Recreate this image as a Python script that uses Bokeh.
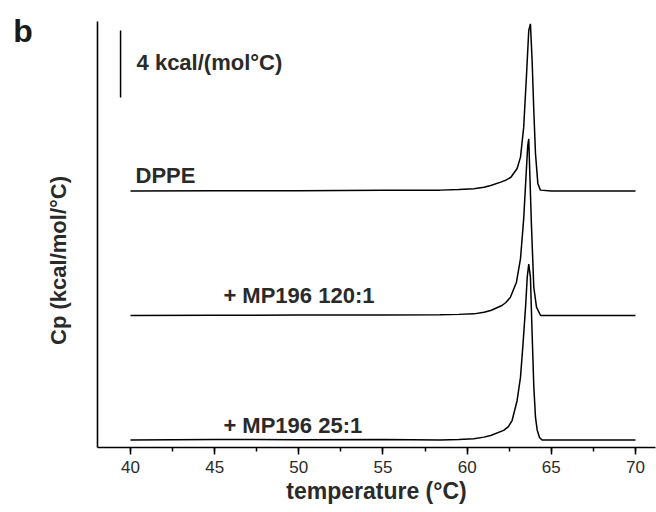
import math
from bokeh.plotting import figure
from bokeh.models import Range1d, SingleIntervalTicker, Label, FixedTicker
from bokeh.embed import file_html
from bokeh.resources import INLINE

# ---- data ----
series_names = ["DPPE", "+ MP196 120:1", "+ MP196 25:1"]
series_offsets = [14.87, 7.43, 0.0]  # vertical stacking offsets, kcal/(mol°C)

temp_dppe = [40.0, 45.0, 50.0, 55.0, 58.4, 59.5, 60.4, 61.0, 61.4, 62.0, 62.3, 62.6, 62.97,
             63.17, 63.36, 63.52, 63.66, 63.76, 63.86, 63.96, 64.06, 64.2, 64.35, 65.0, 70.0]
cp_dppe = [0.0, 0.02, 0.02, 0.04, 0.05, 0.08, 0.13, 0.22, 0.33, 0.53, 0.65, 0.82, 1.34,
           2.02, 3.81, 6.79, 9.58, 9.98, 7.79, 4.81, 2.24, 0.45, 0.05, 0.0, 0.0]

temp_120 = [40.0, 45.0, 50.0, 55.0, 58.4, 59.5, 60.4, 61.0, 61.4, 62.07, 62.3, 62.57, 62.93,
            63.17, 63.36, 63.5, 63.6, 63.66, 63.72, 63.81, 63.96, 64.12, 64.36, 65.0, 70.0]
cp_120 = [0.0, 0.02, 0.03, 0.03, 0.05, 0.07, 0.10, 0.2, 0.30, 0.60, 0.78, 1.09, 1.99,
          3.40, 5.79, 8.36, 10.15, 10.55, 8.6, 5.67, 1.69, 0.50, 0.0, 0.0, 0.0]

temp_25 = [40.0, 45.0, 50.0, 55.0, 58.4, 59.5, 60.4, 61.0, 61.4, 62.17, 62.45, 62.67, 62.97,
           63.17, 63.32, 63.47, 63.57, 63.66, 63.76, 63.86, 63.96, 64.06, 64.16, 64.3, 64.45, 65.0, 70.0]
cp_25 = [0.0, 0.03, 0.02, 0.03, 0.0, 0.03, 0.07, 0.17, 0.27, 0.57, 0.8, 1.16, 2.36,
         3.75, 5.74, 7.93, 9.72, 10.5, 9.72, 6.36, 3.2, 1.36, 0.6, 0.15, 0.0, 0.0, 0.0]

x_ticks = [40, 45, 50, 55, 60, 65, 70]
scale_bar_value = 4.0  # kcal/(mol°C)
scale_bar_x = 39.41
scale_bar_bottom = 20.45

FONT = "Liberation Sans"
TXT = "#2a2a2a"

p = figure(width=656, height=512, output_backend="svg", toolbar_location=None,
           x_range=Range1d(38.04, 71.19), y_range=Range1d(-0.45, 24.99),
           min_border_left=97, min_border_right=1, min_border_top=21, min_border_bottom=65)
p.outline_line_color = None
p.xgrid.visible = False
p.ygrid.visible = False
p.background_fill_color = "white"
p.border_fill_color = "white"

# x axis
xa = p.xaxis[0]
xa.ticker = SingleIntervalTicker(interval=5, num_minor_ticks=2)
xa.axis_line_width = 1.6
xa.axis_line_color = "black"
xa.major_tick_line_width = 1.5
xa.major_tick_line_color = "black"
xa.major_tick_out = 7
xa.major_tick_in = 0
xa.minor_tick_line_width = 1.5
xa.minor_tick_line_color = "black"
xa.minor_tick_out = 4
xa.minor_tick_in = 0
xa.major_label_text_font = FONT
xa.major_label_text_font_size = "17px"
xa.major_label_text_color = TXT
xa.major_label_standoff = 6
xa.axis_label = "temperature (°C)"
xa.axis_label_text_font = FONT
xa.axis_label_text_font_size = "23px"
xa.axis_label_text_font_style = "bold"
xa.axis_label_text_color = TXT
xa.axis_label_standoff = 2

# y axis: line only
ya = p.yaxis[0]
ya.ticker = FixedTicker(ticks=[])
ya.axis_line_width = 1.6
ya.axis_line_color = "black"
ya.major_tick_line_color = None
ya.minor_tick_line_color = None
ya.major_label_text_font_size = "0px"

# traces
temps = [temp_dppe, temp_120, temp_25]
cps = [cp_dppe, cp_120, cp_25]
for t, c, off in zip(temps, cps, series_offsets):
    p.line(t, [v + off for v in c], line_color="black", line_width=1.5)

# scale bar
p.segment(x0=[scale_bar_x], y0=[scale_bar_bottom], x1=[scale_bar_x],
          y1=[scale_bar_bottom + scale_bar_value], line_color="black", line_width=1.5)

def lab(x, y, text, size, bold=True, align="left", angle=0.0, color=TXT, place=None):
    l = Label(x=x, y=y, text=text, text_font=FONT, text_font_size=size,
              text_font_style="bold" if bold else "normal", text_color=color,
              text_align=align, text_baseline="middle", angle=angle)
    if place is None:
        p.add_layout(l)
    else:
        p.add_layout(l, place)

lab(40.36, 22.54, "4 kcal/(mol°C)", "22px")
lab(40.30, 15.79, series_names[0], "22px")
lab(45.52, 8.63, series_names[1], "22px")
lab(45.52, 0.87, series_names[2], "22px")
lab(35.72, 10.72, "Cp (kcal/mol/°C)", "22px", align="center", angle=math.pi / 2, place="left")
lab(33.61, 24.45, "b", "32px", align="center", color="#1a1a1a", place="left")

open("out.html", "w").write(file_html(p, INLINE))
